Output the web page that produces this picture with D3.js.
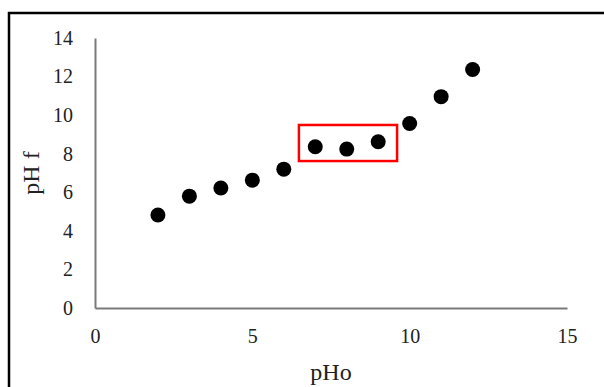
<!DOCTYPE html>
<html>
<head>
<meta charset="utf-8">
<script src="https://cdn.jsdelivr.net/npm/d3@7"></script>
<style>
	body { margin: 0; background: #fff; }
	svg { display: block; font-family: 'Liberation Serif', 'Times New Roman', serif; }
</style>
</head>
<body>
<svg width="604" height="387"></svg>
<script>
// pH values
const pHo = [2, 3, 4, 5, 6, 7, 8, 9, 10, 11, 12];
const pHf = [4.82, 5.8, 6.22, 6.63, 7.2, 8.36, 8.24, 8.62, 9.57, 10.96, 12.37];
const xTicks = [0, 5, 10, 15];
const yTicks = [0, 2, 4, 6, 8, 10, 12, 14];
// highlighted region (data units)
const boxX = [6.48, 9.6];
const boxY = [7.62, 9.49];

const svg = d3.select('svg');
const margin = { top: 38, left: 95, right: 37, bottom: 79 };
const width = 604;
const height = 387;
const innerWidth = width - margin.left - margin.right;
const innerHeight = height - margin.top - margin.bottom;

// outer frame, runs off the right and bottom edge
svg.append('rect')
	.attr('x', 9).attr('y', 13)
	.attr('width', 700).attr('height', 500)
	.attr('fill', 'none')
	.attr('stroke', '#000')
	.attr('stroke-width', 2.5);

const x = d3.scaleLinear().domain([0, 15]).range([0, innerWidth]);
const y = d3.scaleLinear().domain([0, 14]).range([innerHeight, 0]);

const g = svg.append('g')
	.attr('transform', `translate(${margin.left},${margin.top})`);

// axes
const yAxis = g.append('g')
	.call(d3.axisLeft(y).tickValues(yTicks).tickSize(0).tickPadding(22));
const xAxis = g.append('g')
	.attr('transform', `translate(0,${innerHeight})`)
	.call(d3.axisBottom(x).tickValues(xTicks).tickSize(0).tickPadding(21));

[xAxis, yAxis].forEach((a) => {
	a.select('.domain').attr('stroke', '#7a7a7a').attr('stroke-width', 2);
	a.selectAll('text')
		.attr('font-family', "'Liberation Serif', 'Times New Roman', serif")
		.attr('font-size', 20)
		.attr('fill', '#222');
});

// axis titles
svg.append('text')
	.attr('x', margin.left + innerWidth / 2)
	.attr('y', 380)
	.attr('text-anchor', 'middle')
	.attr('font-size', 24)
	.attr('fill', '#222')
	.text('pHo');

svg.append('text')
	.attr('transform', `translate(39,${margin.top + innerHeight / 2}) rotate(-90)`)
	.attr('text-anchor', 'middle')
	.attr('font-size', 24)
	.attr('fill', '#222')
	.text('pH f');

// points
g.selectAll('circle')
	.data(pHo)
	.enter()
	.append('circle')
	.attr('cx', (d) => x(d))
	.attr('cy', (d, i) => y(pHf[i]))
	.attr('r', 7.5)
	.attr('fill', '#000');

// red highlight box
g.append('rect')
	.attr('x', x(boxX[0]))
	.attr('y', y(boxY[1]))
	.attr('width', x(boxX[1]) - x(boxX[0]))
	.attr('height', y(boxY[0]) - y(boxY[1]))
	.attr('fill', 'none')
	.attr('stroke', '#ff0000')
	.attr('stroke-width', 2.5);
</script>
</body>
</html>
